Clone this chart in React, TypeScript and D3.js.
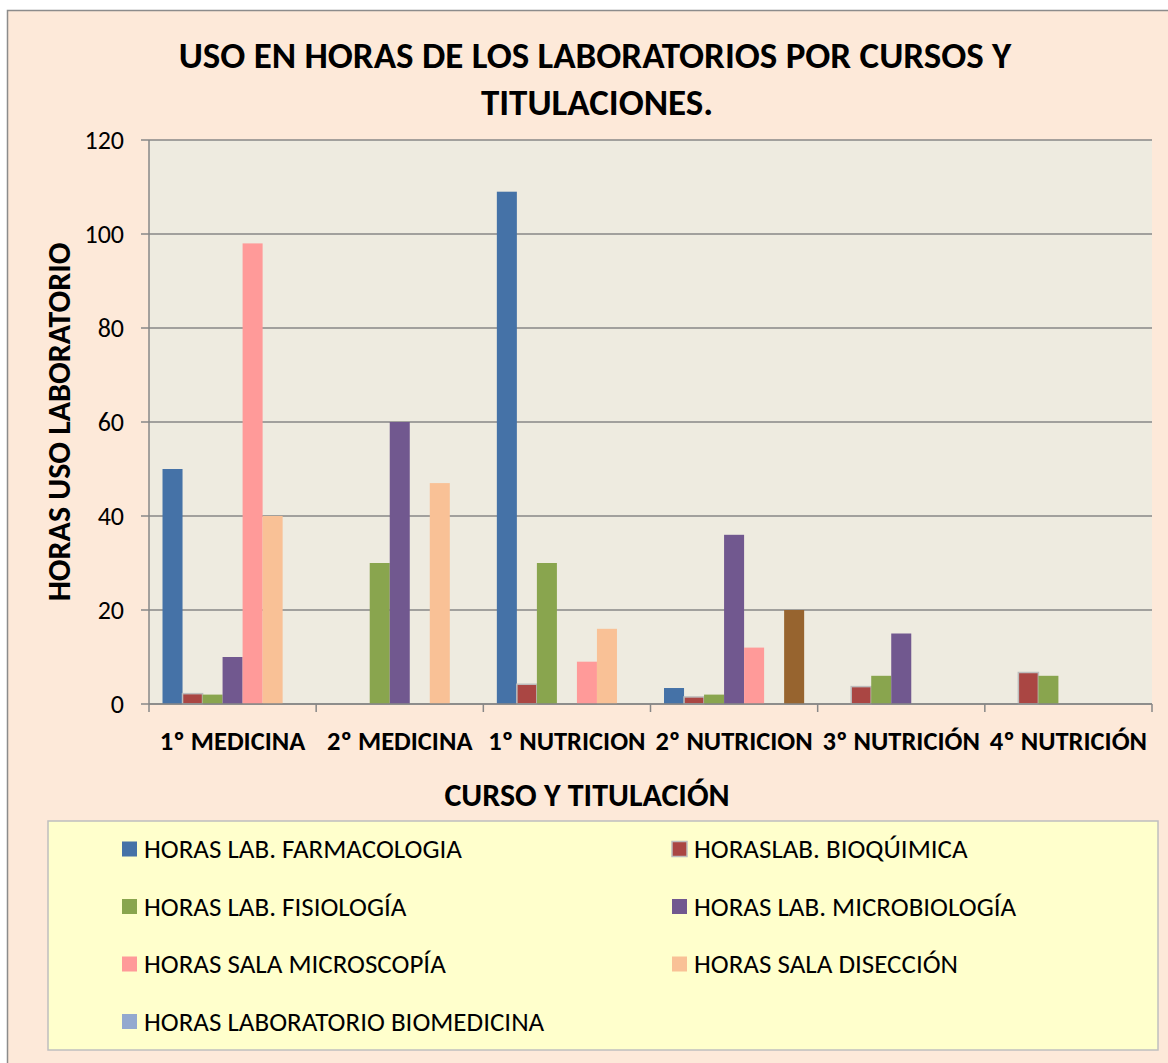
import { useEffect, useRef } from 'react';
import * as d3 from 'd3';

const categories = ['1º MEDICINA', '2º MEDICINA', '1º NUTRICION', '2º NUTRICION', '3º NUTRICIÓN', '4º NUTRICIÓN'];

const seriesNames = [
  'HORAS LAB. FARMACOLOGIA',
  'HORASLAB. BIOQÚIMICA',
  'HORAS LAB. FISIOLOGÍA',
  'HORAS LAB. MICROBIOLOGÍA',
  'HORAS SALA MICROSCOPÍA',
  'HORAS SALA DISECCIÓN',
  'HORAS LABORATORIO BIOMEDICINA',
];

const farmacologia = [50, 0, 109, 3.4, 0, 0];
const bioquimica = [2.2, 0, 4.2, 1.5, 3.7, 6.7];
const fisiologia = [2, 30, 30, 2, 6, 6];
const microbiologia = [10, 60, 0, 36, 15, 0];
const microscopia = [98, 0, 9, 12, 0, 0];
const diseccion = [40, 47, 16, 0, 0, 0];
const biomedicina = [0, 0, 0, 20, 0, 0];

const seriesValues = [farmacologia, bioquimica, fisiologia, microbiologia, microscopia, diseccion, biomedicina];
const seriesColors = ['#4572A7', '#AA4643', '#89A54E', '#71588F', '#FF9A99', '#F9C196', '#93A9CF'];
// one data point in the source is recoloured by hand
const pointColors: Record<string, string> = { '6-3': '#97642F' };

const yTicks = [0, 20, 40, 60, 80, 100, 120];

const FONT = 'Carlito, Calibri, Lato, sans-serif';

export default function App() {
  const svgRef = useRef<SVGSVGElement>(null);

  useEffect(() => {
    if (!svgRef.current) return;
    const svg = d3.select(svgRef.current);
    svg.selectAll('*').remove();

    const width = 1168;
    const height = 1063;
    const plot = { left: 149, right: 1152, top: 140, bottom: 704 };

    svg.attr('width', width).attr('height', height);

    // chart area
    svg.append('rect')
      .attr('x', 7.5).attr('y', 10.5)
      .attr('width', width + 10).attr('height', height + 10)
      .attr('fill', '#FDE9D9')
      .attr('stroke', '#8C8C8C')
      .attr('stroke-width', 1.5);

    // plot area
    svg.append('rect')
      .attr('x', plot.left).attr('y', plot.top)
      .attr('width', plot.right - plot.left).attr('height', plot.bottom - plot.top)
      .attr('fill', '#EEEBE0');

    const x0 = d3.scaleBand<string>().domain(categories).range([plot.left, plot.right]).padding(0);
    const x1 = d3.scaleBand<number>()
      .domain(d3.range(seriesNames.length))
      .range([0, x0.bandwidth()])
      .paddingInner(0)
      .paddingOuter(0.675);
    const y = d3.scaleLinear().domain([0, 120]).range([plot.bottom, plot.top]);

    // gridlines
    svg.append('g')
      .selectAll('line')
      .data(yTicks)
      .join('line')
      .attr('x1', plot.left - 8)
      .attr('x2', plot.right)
      .attr('y1', (d) => y(d))
      .attr('y2', (d) => y(d))
      .attr('stroke', '#878787')
      .attr('stroke-width', 1.5);

    svg.append('g')
      .selectAll('text')
      .data(yTicks)
      .join('text')
      .attr('x', 124)
      .attr('y', (d) => y(d))
      .attr('dy', '0.35em')
      .attr('text-anchor', 'end')
      .attr('font-family', FONT)
      .attr('font-size', 26)
      .attr('fill', '#000')
      .text((d) => d);

    // bars
    seriesValues.forEach((vals, si) => {
      svg.append('g')
        .selectAll('rect')
        .data(vals.map((v, ci) => ({ v, ci })).filter((d) => d.v > 0))
        .join('rect')
        .attr('x', (d) => x0(categories[d.ci])! + x1(si)!)
        .attr('width', x1.bandwidth())
        .attr('y', (d) => y(d.v))
        .attr('height', (d) => plot.bottom - y(d.v))
        .attr('fill', (d) => pointColors[`${si}-${d.ci}`] || seriesColors[si])
        .attr('stroke', si === 1 ? '#BDBDBD' : 'none')
        .attr('stroke-width', si === 1 ? 1.5 : 0);
    });

    // axes lines
    svg.append('line')
      .attr('x1', plot.left).attr('x2', plot.left)
      .attr('y1', plot.top).attr('y2', plot.bottom)
      .attr('stroke', '#878787').attr('stroke-width', 1.5);
    svg.append('line')
      .attr('x1', plot.left).attr('x2', plot.right)
      .attr('y1', plot.bottom).attr('y2', plot.bottom)
      .attr('stroke', '#878787').attr('stroke-width', 1.5);

    const catTicks = [...categories.map((c) => x0(c)!), plot.right];
    svg.append('g')
      .selectAll('line')
      .data(catTicks)
      .join('line')
      .attr('x1', (d) => d).attr('x2', (d) => d)
      .attr('y1', plot.bottom).attr('y2', plot.bottom + 8)
      .attr('stroke', '#878787').attr('stroke-width', 1.5);

    svg.append('g')
      .selectAll('text')
      .data(categories)
      .join('text')
      .attr('x', (d) => x0(d)! + x0.bandwidth() / 2)
      .attr('y', 750)
      .attr('text-anchor', 'middle')
      .attr('font-family', FONT)
      .attr('font-weight', 'bold')
      .attr('font-size', 26.5)
      .attr('fill', '#000')
      .text((d) => d);

    // titles
    const title = svg.append('text')
      .attr('text-anchor', 'middle')
      .attr('font-family', FONT)
      .attr('font-weight', 'bold')
      .attr('font-size', 37)
      .attr('fill', '#000');
    title.append('tspan').attr('x', 595).attr('y', 68).text('USO EN HORAS DE LOS LABORATORIOS POR CURSOS Y');
    title.append('tspan').attr('x', 597).attr('y', 115).text('TITULACIONES.');

    svg.append('text')
      .attr('x', 587).attr('y', 806)
      .attr('text-anchor', 'middle')
      .attr('font-family', FONT)
      .attr('font-weight', 'bold')
      .attr('font-size', 32)
      .attr('fill', '#000')
      .text('CURSO Y TITULACIÓN');

    svg.append('text')
      .attr('transform', `translate(70,${(plot.top + plot.bottom) / 2}) rotate(-90)`)
      .attr('text-anchor', 'middle')
      .attr('font-family', FONT)
      .attr('font-weight', 'bold')
      .attr('font-size', 32)
      .attr('fill', '#000')
      .text('HORAS USO LABORATORIO');

    // legend
    const legend = { x: 48, y: 821, w: 1110, h: 229 };
    svg.append('rect')
      .attr('x', legend.x).attr('y', legend.y)
      .attr('width', legend.w).attr('height', legend.h)
      .attr('fill', '#FFFFCC')
      .attr('stroke', '#BFBFBF')
      .attr('stroke-width', 1.5);

    const colX = [122, 672];
    const rowY = d3.scaleLinear().domain([0, 1]).range([849, 906.5]);
    const items = svg.append('g')
      .selectAll('g')
      .data(seriesNames.map((name, i) => ({ name, i })))
      .join('g')
      .attr('transform', (d) => `translate(${colX[d.i % 2]},${rowY(Math.floor(d.i / 2))})`);

    items.append('rect')
      .attr('x', 0).attr('y', -7.5)
      .attr('width', 15).attr('height', 15)
      .attr('fill', (d) => seriesColors[d.i])
      .attr('stroke', (d) => (d.i === 1 ? '#BDBDBD' : 'none'))
      .attr('stroke-width', 1.5);

    items.append('text')
      .attr('x', 22)
      .attr('y', 0)
      .attr('dy', '0.35em')
      .attr('font-family', FONT)
      .attr('font-size', 27)
      .attr('fill', '#000')
      .text((d) => d.name);
  }, []);

  return (
    <div style={{ position: 'absolute', left: 0, top: 0 }}>
      <svg ref={svgRef} style={{ display: 'block' }} />
    </div>
  );
}
